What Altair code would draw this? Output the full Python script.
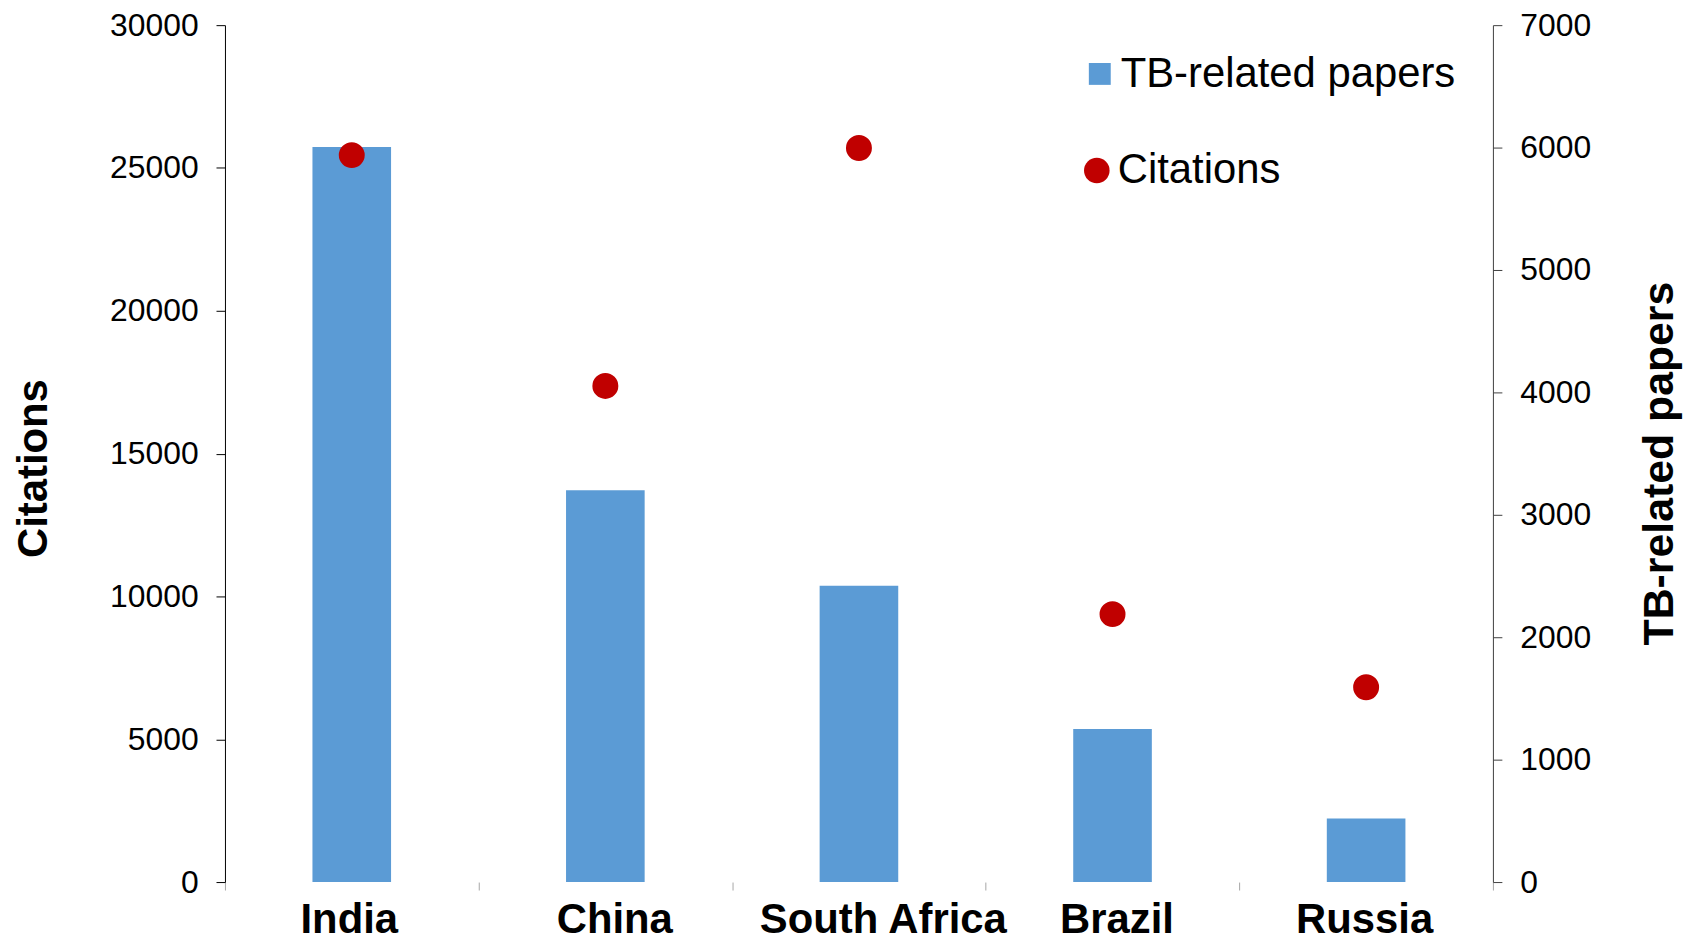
import altair as alt
import pandas as pd

countries = ["India", "China", "South Africa", "Brazil", "Russia"]
papers = [6005, 3200, 2420, 1250, 520]
citations = [25450, 17370, 25700, 9380, 6820]
left_ticks = [0, 5000, 10000, 15000, 20000, 25000, 30000]
right_ticks = [0, 1000, 2000, 3000, 4000, 5000, 6000, 7000]

df = pd.DataFrame({
    "country": countries,
    "papers": papers,
    "citations": citations,
    "s1": ["TB-related papers"] * len(countries),
    "s2": ["Citations"] * len(countries),
})

FONT = "Liberation Sans"

label_nudge = {
    "condition": [
        {"test": "datum.value === 'India'", "value": -3},
        {"test": "datum.value === 'China'", "value": 9},
        {"test": "datum.value === 'South Africa'", "value": 24},
        {"test": "datum.value === 'Brazil'", "value": 4},
    ],
    "value": -2,
}

x = alt.X(
    "country:N",
    sort=countries,
    scale=alt.Scale(paddingInner=0, paddingOuter=0),
    axis=alt.Axis(
        title=None, domain=False, tickBand="extent", tickColor="#A6A6A6",
        tickSize=8, tickWidth=1, labelFontSize=42, labelFontWeight="bold",
        labelFont=FONT, labelColor="#000000", labelAngle=0, labelPadding=10,
        labelLimit=0, labelOffset=label_nudge,
    ),
)

bars = alt.Chart(df).mark_bar(width=alt.RelativeBandSize(0.31), color="#5B9BD5").encode(
    x=x,
    y=alt.Y(
        "papers:Q",
        scale=alt.Scale(domain=[0, 7000], nice=False, zero=True),
        axis=alt.Axis(
            orient="right", values=right_ticks, format="d", grid=False,
            title="TB-related papers", titleFont=FONT, titleFontSize=43,
            titleFontWeight="bold", titleColor="#000000", titleAngle=270,
            titleBaseline="middle", titleAlign="center", titleX=167, titleY=440,
            labelFont=FONT, labelFontSize=32, labelColor="#000000", labelPadding=18,
            tickSize=9, tickColor="#404040", domainColor="#404040", domainWidth=1,
        ),
    ),
    color=alt.Color(
        "s1:N",
        scale=alt.Scale(domain=["TB-related papers"], range=["#5B9BD5"]),
        legend=alt.Legend(
            orient="none", legendX=858, legendY=28, title=None, padding=0,
            symbolType="square", symbolSize=484, symbolStrokeWidth=0,
            labelFont=FONT, labelFontSize=42, labelColor="#000000",
            labelOffset=0, labelLimit=0,
        ),
    ),
)

dots = alt.Chart(df).mark_circle(opacity=1, size=680).encode(
    x=x,
    y=alt.Y(
        "citations:Q",
        scale=alt.Scale(domain=[0, 30000], nice=False, zero=True),
        axis=alt.Axis(
            orient="left", values=left_ticks, format="d", grid=False,
            title="Citations", titleFont=FONT, titleFontSize=42,
            titleFontWeight="bold", titleColor="#000000", titleAngle=270,
            titleBaseline="middle", titleAlign="center", titleX=-192, titleY=445,
            labelFont=FONT, labelFontSize=32, labelColor="#000000", labelPadding=18,
            tickSize=9, tickColor="#000000", domainColor="#000000", domainWidth=1,
        ),
    ),
    fill=alt.Fill(
        "s2:N",
        scale=alt.Scale(domain=["Citations"], range=["#C00000"]),
        legend=alt.Legend(
            orient="none", legendX=855, legendY=125, title=None, padding=0,
            symbolType="circle", symbolSize=660, symbolStrokeWidth=0,
            labelFont=FONT, labelFontSize=42, labelColor="#000000",
            labelOffset=0, labelLimit=0,
        ),
    ),
)

chart = (
    alt.layer(bars, dots)
    .resolve_scale(y="independent")
    .properties(
        width=1274,
        height=861,
        autosize=alt.AutoSizeParams(type="none"),
        padding={"left": 218, "top": 15, "right": 192, "bottom": 60},
        background="#FFFFFF",
    )
    .configure_view(stroke=None)
)

chart.save("out.html", embed_options={"renderer": "svg", "actions": False})
